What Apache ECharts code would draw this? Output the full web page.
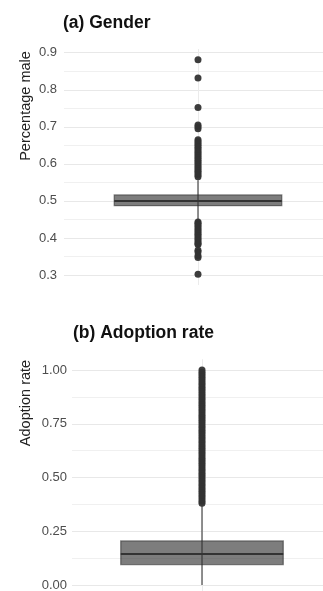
<!DOCTYPE html>
<html>
<head>
<meta charset="utf-8">
<script src="https://cdn.jsdelivr.net/npm/echarts@6/dist/echarts.min.js"></script>
<style>
  html, body { margin: 0; padding: 0; background: #fff; }
  #main { width: 323px; height: 591px; }
</style>
</head>
<body>
<div id="main"></div>
<script>
// box stats: [lower whisker, Q1, median, Q3, upper whisker]
var genderBox = [0.446, 0.487, 0.500, 0.516, 0.556];
var genderOutliers = [
    0.565, 0.570, 0.575, 0.580, 0.585, 0.590, 0.595, 0.600, 0.605, 0.610,
    0.615, 0.620, 0.625, 0.630, 0.635, 0.640, 0.645, 0.650, 0.655, 0.660,
    0.665, 0.695, 0.700, 0.705, 0.752, 0.832, 0.881,
    0.443, 0.440, 0.435, 0.430, 0.425, 0.420, 0.415, 0.410, 0.405, 0.400,
    0.395, 0.390, 0.385, 0.382, 0.367, 0.362, 0.352, 0.347, 0.302
];
var genderTicks = [0.3, 0.9, 0.1];   // min, max, step

var adoptBox = [0.000, 0.095, 0.144, 0.205, 0.370];
var adoptOutliers = [
    0.38, 0.39, 0.40, 0.41, 0.42, 0.43, 0.44, 0.45, 0.46, 0.47,
    0.48, 0.49, 0.50, 0.51, 0.52, 0.53, 0.54, 0.55, 0.56, 0.57,
    0.58, 0.59, 0.60, 0.61, 0.62, 0.63, 0.64, 0.65, 0.66, 0.67,
    0.68, 0.69, 0.70, 0.71, 0.72, 0.73, 0.74, 0.75, 0.76, 0.77,
    0.78, 0.79, 0.80, 0.81, 0.82, 0.83, 0.84, 0.85, 0.86, 0.87,
    0.88, 0.89, 0.90, 0.91, 0.92, 0.93, 0.94, 0.95, 0.96, 0.97,
    0.98, 0.99, 1.00
];
var adoptTicks = [0, 1, 0.25];

var FONT = 'Liberation Sans, Arial, sans-serif';

// panel layout: label grid (ticks + gridlines) and data grid (expanded 5% like ggplot)
var panels = [
    { left: 64, top: 52.7, bottom: 275, ticks: genderTicks, box: genderBox, out: genderOutliers, digits: 1, margin: 7 },
    { left: 72, top: 370, bottom: 585, ticks: adoptTicks, box: adoptBox, out: adoptOutliers, digits: 2, margin: 5 }
];

var grids = [], xAxes = [], yAxes = [], series = [];

function renderBox(params, api) {
    var x = api.value(0);
    var lo = api.coord([x, api.value(1)]);
    var q1 = api.coord([x, api.value(2)]);
    var md = api.coord([x, api.value(3)]);
    var q3 = api.coord([x, api.value(4)]);
    var hi = api.coord([x, api.value(5)]);
    var half = api.size([1, 0])[0] * 0.625 / 2;
    return {
        type: 'group',
        children: [
            { type: 'line', shape: { x1: lo[0], y1: lo[1], x2: hi[0], y2: hi[1] },
              style: { stroke: '#555', lineWidth: 1.3 } },
            { type: 'rect', shape: { x: q3[0] - half, y: q3[1], width: half * 2, height: q1[1] - q3[1] },
              style: { fill: 'rgba(51,51,51,0.64)', stroke: 'rgba(40,40,40,0.55)', lineWidth: 1.3 } },
            { type: 'line', shape: { x1: md[0] - half, y1: md[1], x2: md[0] + half, y2: md[1] },
              style: { stroke: '#333', lineWidth: 2 } }
        ]
    };
}

panels.forEach(function (p, i) {
    var tMin = p.ticks[0], tMax = p.ticks[1], step = p.ticks[2];
    var ppu = (p.bottom - p.top) / (tMax - tMin);
    var all = p.box.concat(p.out);
    var lo = Math.min.apply(null, all), hi = Math.max.apply(null, all);
    var pad = (hi - lo) * 0.05;
    var dMin = lo - pad, dMax = hi + pad;
    var dTop = p.top - (dMax - tMax) * ppu;
    var dHeight = (dMax - dMin) * ppu;

    // label grid
    grids.push({ left: p.left, right: -9, top: p.top, height: p.bottom - p.top, outerBoundsMode: 'none' });
    var g0 = grids.length - 1;
    xAxes.push({ gridIndex: g0, type: 'value', min: 0, max: 1, show: false });
    yAxes.push({
        gridIndex: g0, type: 'value', min: tMin, max: tMax, interval: step,
        axisLine: { show: false }, axisTick: { show: false },
        axisLabel: {
            color: '#4d4d4d', fontSize: 13, fontFamily: FONT, margin: p.margin,
            formatter: function (v) { return v.toFixed(p.digits); }
        },
        splitLine: { lineStyle: { color: '#e8e8e8', width: 1 } },
        minorTick: { show: false, splitNumber: 2 },
        minorSplitLine: { show: true, lineStyle: { color: '#f0f0f0', width: 1 } }
    });

    // data grid
    grids.push({ left: p.left, right: -9, top: dTop, height: dHeight, outerBoundsMode: 'none' });
    var g1 = grids.length - 1;
    xAxes.push({ gridIndex: g1, type: 'category', data: ['a'], show: false });
    var xCat = xAxes.length - 1;
    xAxes.push({
        gridIndex: g1, type: 'value', min: 0, max: 2, interval: 1,
        axisLine: { show: false }, axisTick: { show: false }, axisLabel: { show: false },
        splitLine: { show: true, showMinLine: false, showMaxLine: false, lineStyle: { color: '#ebebeb', width: 1 } }
    });
    yAxes.push({ gridIndex: g1, type: 'value', min: dMin, max: dMax, show: false });
    var yData = yAxes.length - 1;

    series.push({
        type: 'custom',
        xAxisIndex: xCat, yAxisIndex: yData,
        renderItem: renderBox,
        encode: { x: 0, y: [1, 2, 3, 4, 5] },
        data: [[0].concat(p.box)],
        clip: false,
        z: 2
    });
    series.push({
        type: 'scatter',
        xAxisIndex: xCat, yAxisIndex: yData,
        symbolSize: 7,
        itemStyle: { color: '#333', opacity: 0.95 },
        clip: false,
        data: p.out.map(function (v) { return [0, v]; }),
        z: 3
    });
});

var chart = echarts.init(document.getElementById('main'), null, { renderer: 'canvas' });
chart.setOption({
    animation: false,
    title: [
        { text: '(a) Gender', left: 63, top: 13, padding: 0,
          textStyle: { fontSize: 17.5, fontWeight: 'bold', color: '#111', fontFamily: FONT, lineHeight: 20 } },
        { text: '(b) Adoption rate', left: 73, top: 323, padding: 0,
          textStyle: { fontSize: 17.5, fontWeight: 'bold', color: '#111', fontFamily: FONT, lineHeight: 20 } }
    ],
    graphic: [
        { type: 'text', x: 26, y: 106, rotation: Math.PI / 2,
          style: { text: 'Percentage male', fill: '#222', font: '14.5px ' + FONT, align: 'center', verticalAlign: 'middle' } },
        { type: 'text', x: 26, y: 403, rotation: Math.PI / 2,
          style: { text: 'Adoption rate', fill: '#222', font: '14.5px ' + FONT, align: 'center', verticalAlign: 'middle' } }
    ],
    grid: grids,
    xAxis: xAxes,
    yAxis: yAxes,
    series: series
});
</script>
</body>
</html>
